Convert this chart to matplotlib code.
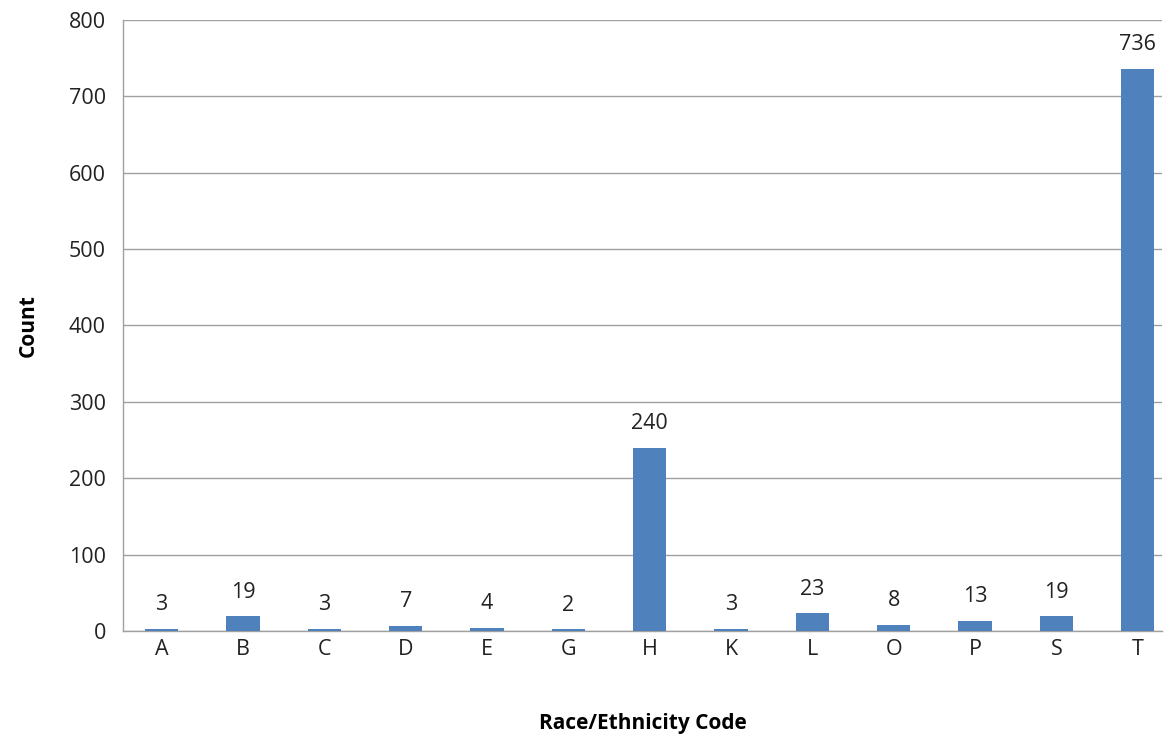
import matplotlib
matplotlib.use("Agg")
import matplotlib.pyplot as plt

# data
codes = ["A", "B", "C", "D", "E", "G", "H", "K", "L", "O", "P", "S", "T"]
counts = [3, 19, 3, 7, 4, 2, 240, 3, 23, 8, 13, 19, 736]

plt.rcParams["font.family"] = ["Open Sans", "DejaVu Sans"]

fig = plt.figure(figsize=(11.68, 7.38), dpi=100)
ax = fig.add_axes([0.105, 0.145, 0.89, 0.828])

x = range(len(codes))
bars = ax.bar(x, counts, width=0.41, color="#4F81BD", zorder=3)

for xi, v in zip(x, counts):
    ax.annotate(str(v), (xi, v), xytext=(0, 10), textcoords="offset points",
                ha="center", va="bottom", fontsize=15.5, color="#222222")

ax.set_xlim(-0.48, len(codes) - 0.7)
ax.set_ylim(0, 800)
ax.set_yticks(range(0, 801, 100))
ax.set_xticks(list(x))
ax.set_xticklabels(codes)
ax.tick_params(axis="both", length=0, labelsize=15.5, colors="#222222")
ax.tick_params(axis="x", pad=6)
ax.tick_params(axis="y", pad=12)

ax.yaxis.grid(True, color="#a0a0a0", linewidth=1, zorder=0)
for s in ["top", "right"]:
    ax.spines[s].set_visible(False)
for s in ["left", "bottom"]:
    ax.spines[s].set_color("#a0a0a0")
    ax.spines[s].set_linewidth(1)

ax.set_xlabel("Race/Ethnicity Code", fontsize=15, fontweight="bold", labelpad=38)
ax.set_ylabel("Count", fontsize=15, fontweight="bold", labelpad=22)

fig.savefig("out.png", dpi=100)
